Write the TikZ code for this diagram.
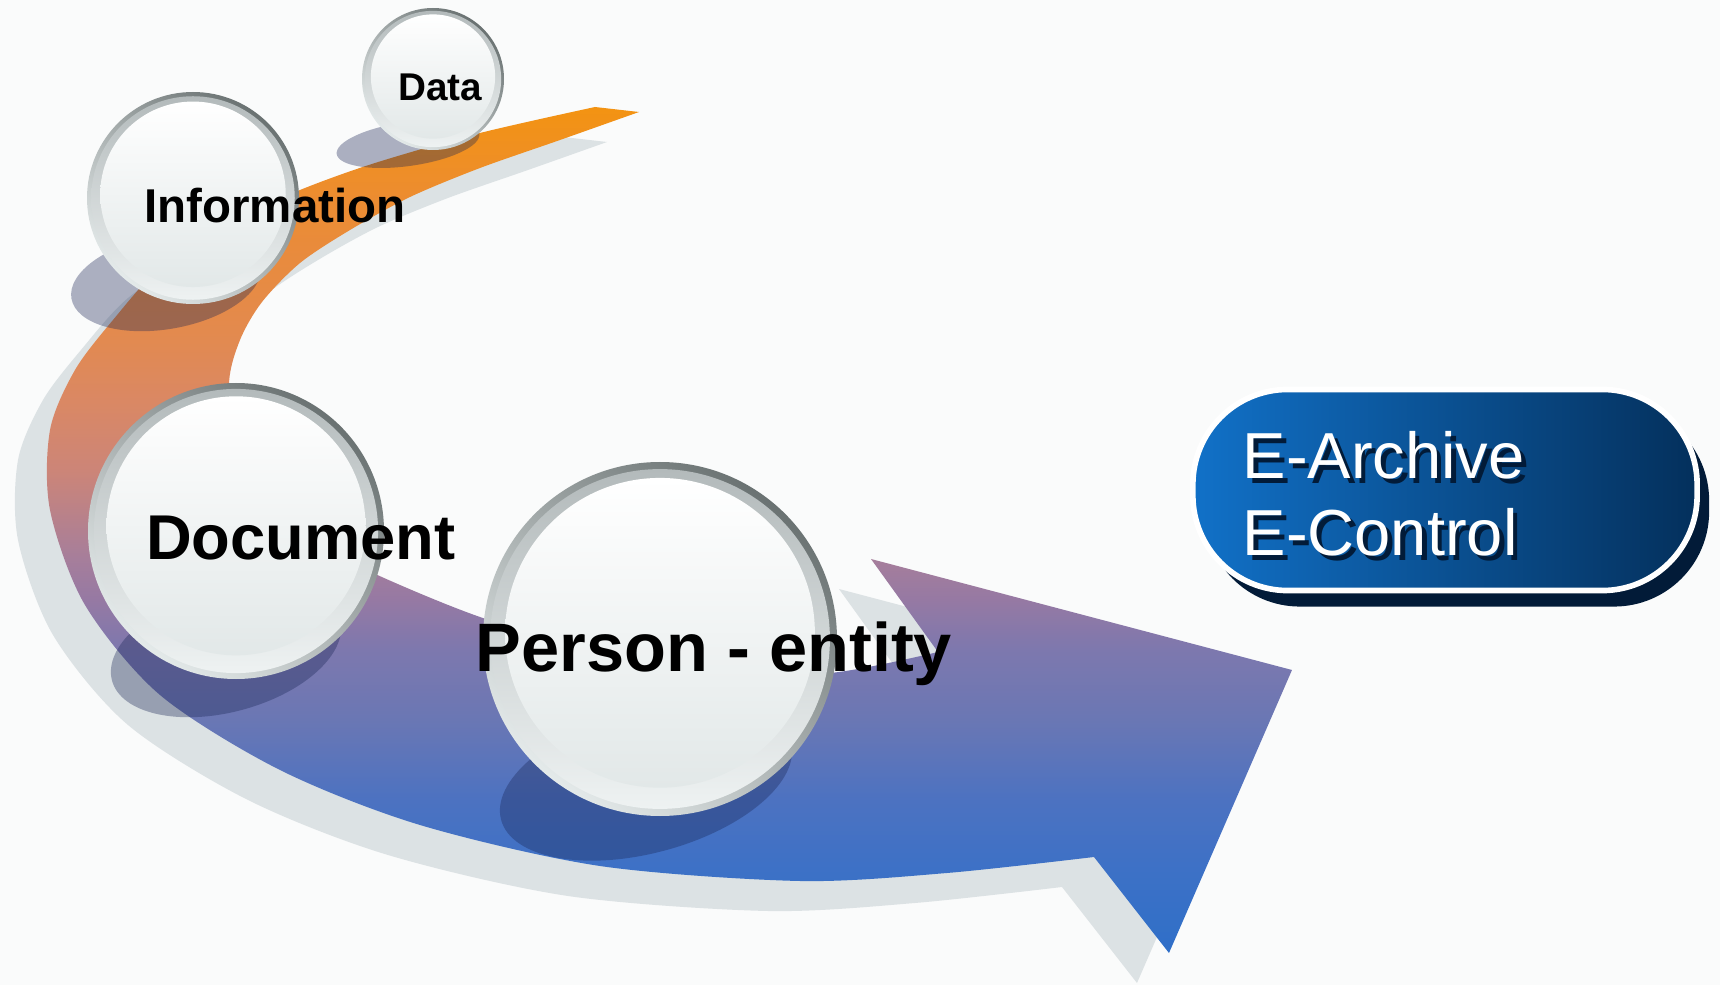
\documentclass[tikz,border=0pt]{standalone}
\usepackage{fontspec}
\setmainfont{Liberation Sans}
\usetikzlibrary{calc,shadows}

\definecolor{paper}{HTML}{FAFBFB}
\definecolor{bandgrey}{HTML}{DCE2E4}
\definecolor{orbshadow}{RGB}{24,36,84}
\definecolor{rimtop}{HTML}{6A7272}
\definecolor{rimbot}{HTML}{E4EAEA}
\definecolor{beveltop}{HTML}{B3BABB}
\definecolor{bevelbot}{HTML}{EEF2F2}
\definecolor{facemid}{HTML}{D9DFE0}
\definecolor{facebot}{HTML}{E2E8E8}
\definecolor{boxleft}{HTML}{1171C8}
\definecolor{boxright}{HTML}{04305C}
\definecolor{boxshadow}{HTML}{021B38}

\definecolor{bA}{HTML}{2F6FC8}
\definecolor{bB}{HTML}{3D71C6}
\definecolor{bC}{HTML}{4C72C1}
\definecolor{bD}{HTML}{6A77B4}
\definecolor{bE}{HTML}{7D78AE}
\definecolor{bF}{HTML}{9679A3}
\definecolor{bG}{HTML}{A67E9B}
\definecolor{bH}{HTML}{CC8578}
\definecolor{bI}{HTML}{DA8864}
\definecolor{bJ}{HTML}{E38A4E}
\definecolor{bK}{HTML}{EC8C32}
\definecolor{bL}{HTML}{F39312}

\pgfdeclareverticalshading{bandshade}{100bp}{%
  color(0bp)=(bA); color(25bp)=(bA); color(30bp)=(bB); color(34bp)=(bC);
  color(38.8bp)=(bD); color(42.9bp)=(bE); color(45.9bp)=(bF); color(48.3bp)=(bG);
  color(53.5bp)=(bH); color(57.6bp)=(bI); color(61.7bp)=(bJ); color(69.4bp)=(bK);
  color(75bp)=(bL); color(100bp)=(bL)}

% the curved arrow, in pixel units
\newcommand\bandpath{(595,107) -- (639,112)
  -- plot[smooth] coordinates {(639,112) (560,140) (480,168) (410,197) (350,230)
     (300,263) (262,302) (240,340) (229,385) (238,460) (290,530) (373,573)
     (480,617) (600,652) (720,670) (830,673) (938,652)}
  -- (871,559) -- (1292,670) -- (1169,953) -- (1094,857)
  -- plot[smooth] coordinates {(1094,857) (947,873) (800,881) (600,866) (420,825)
     (280,770) (160,695) (85,605) (50,510) (50,430) (75,370) (113,320)
     (160,268) (230,222) (300,190) (375,163) (480,133) (595,107)} -- cycle}

\newcommand\glassorb[3]{%
  \coordinate (#1) at #2;
  \shade[top color=rimtop, bottom color=rimbot, shading angle=-40] (#1) circle (#3);
  \shade[top color=beveltop, bottom color=bevelbot] (#1) circle ({0.96*#3});
  \shade[top color=white, middle color=facemid, bottom color=facebot]
    ($(#1)+(0,{-0.035*#3})$) circle ({0.875*#3});
}

\newcommand\shadowtext[1]{\makebox[0pt][l]{\hspace{1.3pt}\raisebox{-1.3pt}{\textcolor{boxshadow}{#1}}}#1}

\tikzset{
  orbshade/.style={fill=orbshadow, opacity=0.35},
  orblabel/.style={inner sep=0pt, anchor=base, text=black},
  ebox/.style={rectangle, rounded corners=0.95cm, minimum width=5.04cm,
    minimum height=2.01cm, left color=boxleft, right color=boxright,
    draw=white, line width=1.6pt,
    drop shadow={shadow xshift=0.12cm, shadow yshift=-0.16cm, fill=boxshadow, opacity=1}},
  etext/.style={inner sep=0pt, anchor=base west, text=white, align=left,
    font=\fontsize{18.5}{22}\selectfont}
}

\begin{document}
\begin{tikzpicture}[x=0.01cm, y=-0.01cm]
\useasboundingbox (0,0) rectangle (1720,985);
\fill[paper] (0,0) rectangle (1720,985);

\fill[bandgrey, shift={(-32,30)}] \bandpath;
\shade[shading=bandshade] \bandpath;

\fill[orbshade, rotate around={8:(408,144)}] (408,144) ellipse (72 and 22);
\fill[orbshade, rotate around={10:(166,282)}] (166,282) ellipse (96 and 47);
\fill[orbshade, rotate around={15:(226,650)}] (226,650) ellipse (118 and 62);
\fill[orbshade, rotate around={15:(646,781)}] (646,781) ellipse (150 and 72);

\glassorb{data}{(433,79)}{71}
\glassorb{info}{(193,198)}{106}
\glassorb{doc}{(236,531)}{148}
\glassorb{person}{(660,639)}{177}

\node[orblabel, font=\bfseries\fontsize{11}{13}\selectfont] (datatext) at (440,101) {Data};
\node[orblabel, font=\bfseries\fontsize{13.5}{16}\selectfont] (infotext) at (275,223) {Information};
\node[orblabel, font=\bfseries\fontsize{18}{22}\selectfont] (doctext) at (301,559) {Document};
\node[orblabel, font=\bfseries\fontsize{19.5}{23}\selectfont] (persontext) at (714,671) {Person - entity};

\node[ebox] (ebox) at (1445,490) {};
\node[etext] (etext) at (1242,556) {\shadowtext{E-Archive}\\\shadowtext{E-Control}};
\end{tikzpicture}
\end{document}
